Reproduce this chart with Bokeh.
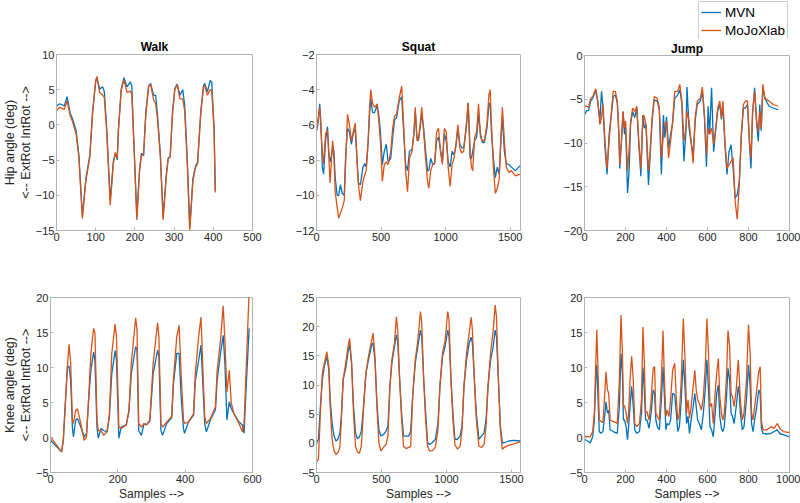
from bokeh.plotting import figure
from bokeh.models import Range1d, FixedTicker, Legend, LegendItem, Title
from bokeh.layouts import column, row
from bokeh.embed import file_html
from bokeh.resources import INLINE

# ---------------- data ----------------
walk_hip_x = [0, 8, 20, 27, 35, 40, 50, 57, 66, 75, 85, 92, 100, 103, 110, 118, 122, 128, 137, 145,
              150, 155, 158, 165, 172, 180, 188, 192, 197, 205, 212, 217, 222, 228, 235, 240, 248, 253, 258, 265,
              272, 280, 285, 290, 296, 302, 308, 315, 322, 327, 333, 340, 348, 355, 360, 368, 375, 378, 385, 392,
              396, 402, 405]
walk_hip_mojo = [2.0, 2.5, 2.2, 3.4, 1.3, 0.6, -1.3, -4.6, -13.3, -7.9, -4.6, 1.6, 6.3, 6.9, 4.6, 4.2, 3.9, -0.8, -11.4, -5.5,
                 -3.9, -4.7, -0.8, 4.9, 6.4, 4.6, 4.8, 4.4, -2.2, -13.5, -6.5, -4.3, -4.3, 1.6, 5.4, 5.8, 3.5, 3.0, 0.6, -4.6,
                 -13.5, -7.4, -4.8, -4.6, 1.6, 5.1, 5.7, 3.7, 3.7, 2.0, -4.6, -15.0, -7.9, -6.0, -5.5, 1.6, 5.4, 5.6, 4.2, 5.0,
                 4.9, -0.8, -9.6]
walk_hip_mvn = [2.7, 3.0, 2.7, 4.0, 1.6, 1.0, -0.8, -4.2, -12.9, -7.6, -4.3, 1.8, 6.2, 6.7, 5.1, 5.4, 4.7, -0.4, -10.7, -5.2,
                -4.0, -5.0, -0.6, 5.0, 6.7, 5.4, 6.1, 5.6, -1.8, -13.1, -6.2, -4.0, -4.4, 1.9, 5.5, 5.9, 4.2, 4.2, 1.2, -4.2,
                -13.1, -7.1, -4.7, -4.5, 1.9, 5.2, 5.8, 4.2, 5.0, 2.8, -4.2, -14.5, -7.6, -5.8, -5.3, 1.9, 5.5, 5.9, 4.7, 6.3,
                6.1, -0.4, -9.3]

walk_knee_x = [0, 33, 38, 45, 50, 55, 60, 65, 68, 75, 80, 90, 100, 107, 115, 120, 128, 132, 138, 142,
               150, 158, 168, 175, 182, 192, 196, 203, 210, 225, 233, 240, 253, 257, 262, 270, 278, 285, 295, 305,
               318, 322, 328, 333, 345, 360, 365, 375, 382, 388, 395, 398, 410, 425, 430, 440, 447, 452, 458, 463,
               475, 490, 495, 505, 513, 518, 524, 531, 537, 545, 560, 570, 575, 580, 590]
walk_knee_mojo = [0.1, -2.05, -0.4, 5.8, 10.1, 13.3, 10.6, 2.5, 2.0, 3.9, 4.1, 2.0, -0.4, 0.1, 7.2, 12.0, 15.6, 14.9, 2.5, 1.0,
                  1.0, 0.3, 0.8, 3.4, 12.0, 16.2, 14.4, 1.5, 1.3, 1.8, 3.9, 10.6, 17.1, 15.3, 2.0, 1.5, 2.0, 1.8, 2.5, 10.6,
                  16.4, 14.4, 2.0, 1.5, 2.2, 3.0, 8.2, 14.4, 16.0, 9.1, 2.5, 2.0, 2.2, 3.4, 9.1, 14.4, 17.2, 10.6, 3.0, 2.0,
                  2.7, 4.4, 9.6, 13.9, 18.8, 13.9, 6.5, 9.6, 4.9, 3.4, 2.0, 0.8, 2.0, 8.2, 21.0]
walk_knee_mvn = [-0.4, -2.05, -0.4, 5.5, 10.0, 10.2, 8.2, 1.5, 0.1, 2.5, 2.7, 1.5, 0.1, 0.6, 6.5, 9.6, 12.2, 11.0, 1.5, -0.1,
                 1.3, 1.0, 0.8, 3.0, 9.1, 12.4, 11.0, -0.1, 1.5, 1.8, 3.7, 9.1, 13.0, 12.5, 1.0, 0.3, 2.0, 1.8, 2.3, 9.1,
                 12.5, 11.5, 1.0, 0.3, 2.0, 2.8, 7.5, 12.0, 12.0, 5.8, 1.3, 0.6, 2.2, 3.2, 8.0, 11.0, 13.2, 8.2, 2.0, 0.8,
                 2.5, 4.0, 8.2, 12.0, 14.6, 10.6, 2.5, 5.1, 4.1, 3.4, 2.2, 1.8, 0.6, 6.0, 15.6]

squat_hip_x = [0, 10, 25, 35, 45, 55, 70, 85, 95, 105, 115, 125, 135, 145, 160, 172, 185, 200, 215, 225,
               240, 255, 270, 285, 300, 315, 325, 340, 360, 375, 385, 400, 410, 420, 435, 450, 470, 485, 495, 510,
               525, 540, 555, 575, 590, 605, 620, 640, 660, 675, 690, 705, 720, 740, 755, 765, 778, 790, 805, 815,
               830, 845, 860, 870, 885, 900, 915, 930, 945, 960, 975, 990, 1005, 1020, 1035, 1050, 1065, 1080, 1095, 1110,
               1125, 1140, 1160, 1175, 1190, 1200, 1210, 1225, 1240, 1255, 1270, 1285, 1300, 1320, 1335, 1345, 1355, 1370, 1385, 1400,
               1415, 1430, 1440, 1455, 1470, 1490, 1510, 1540, 1580]
squat_hip_mojo = [-6.26, -5.8, -5.0, -6.4, -7.5, -8.2, -6.5, -6.3, -7.7, -9.3, -8.1, -6.9, -7.9, -9.8, -10.7, -11.3, -11.0, -10.7, -10.3, -8.25,
                  -5.4, -6.0, -6.9, -6.4, -5.9, -8.25, -9.4, -10.3, -9.2, -8.8, -8.6, -6.9, -5.2, -4.0, -4.8, -5.0, -4.8, -6.0, -6.9, -9.2,
                  -8.25, -8.1, -8.25, -7.5, -6.2, -5.5, -5.4, -4.5, -3.8, -6.0, -8.6, -9.8, -7.9, -7.5, -6.4, -5.0, -6.9, -6.8, -5.8, -5.0,
                  -6.4, -7.9, -9.2, -9.6, -8.6, -8.25, -8.2, -6.4, -6.2, -7.5, -8.25, -6.2, -6.4, -8.4, -9.5, -8.25, -7.9, -7.1, -6.0, -7.3,
                  -7.6, -7.5, -6.0, -4.75, -7.5, -8.4, -8.6, -6.7, -6.4, -4.8, -6.7, -6.9, -6.9, -6.0, -4.3, -4.0, -6.0, -8.4, -9.9, -9.6,
                  -9.1, -6.4, -5.0, -6.9, -8.4, -8.7, -8.6, -8.9, -8.8]
squat_hip_mvn = [-6.36, -6.0, -4.8, -6.0, -8.4, -8.8, -6.9, -6.1, -7.5, -8.1, -7.8, -7.2, -7.5, -9.0, -10.0, -10.0, -9.4, -9.9, -10.0, -7.9,
                 -6.2, -6.4, -7.1, -6.5, -6.2, -8.1, -9.3, -9.4, -8.4, -8.2, -8.4, -7.0, -5.5, -4.5, -5.3, -5.3, -4.9, -5.6, -6.4, -8.25,
                 -7.5, -7.1, -8.1, -7.9, -6.7, -5.7, -5.6, -4.65, -4.4, -6.4, -8.25, -8.6, -7.5, -7.4, -6.5, -5.2, -6.7, -6.9, -6.0, -5.4,
                 -6.2, -7.5, -8.6, -8.6, -7.9, -8.25, -8.2, -6.9, -6.7, -7.4, -8.1, -6.5, -6.9, -8.1, -8.4, -7.5, -7.7, -7.2, -6.2, -7.1,
                 -7.3, -7.3, -6.2, -4.75, -7.9, -7.9, -7.5, -6.9, -6.7, -5.4, -6.5, -7.0, -7.0, -6.2, -4.9, -4.75, -6.4, -7.9, -9.0, -8.4,
                 -8.8, -6.6, -5.6, -7.5, -8.2, -8.25, -8.4, -8.6, -8.3]

squat_knee_x = [0, 15, 30, 45, 60, 80, 95, 105, 120, 135, 150, 165, 180, 190, 205, 225, 245, 255, 270, 285,
                300, 315, 330, 345, 360, 380, 400, 425, 435, 450, 465, 480, 495, 515, 535, 550, 565, 580, 600, 615,
                625, 640, 655, 670, 690, 710, 725, 740, 760, 780, 800, 810, 825, 840, 855, 870, 890, 915, 935, 950,
                970, 990, 1010, 1020, 1035, 1050, 1065, 1085, 1105, 1120, 1135, 1155, 1175, 1190, 1200, 1215, 1230, 1250, 1270, 1290,
                1305, 1320, 1340, 1360, 1375, 1385, 1400, 1415, 1430, 1445, 1480, 1520, 1570]
squat_knee_mojo = [-3.2, -2.7, 5.2, 12.0, 13.75, 15.7, 13.2, 6.4, 0.7, -1.3, -1.9, -1.6, -0.7, 3.5, 10.9, 13.75, 16.9, 18.0, 13.75, 5.2,
                   -0.5, -1.5, -1.7, -0.5, 5.2, 12.0, 14.9, 17.7, 18.9, 14.9, 6.4, 0.1, -1.3, -0.7, -0.2, 1.25, 9.8, 14.3, 17.2, 21.7,
                   19.4, 10.9, 4.1, -0.5, -0.9, -0.7, -0.5, 8.0, 14.3, 17.7, 22.6, 20.6, 10.9, 4.1, -0.5, -1.3, -1.3, -0.7, 2.4, 9.8,
                   15.5, 17.7, 22.6, 21.1, 10.9, 4.1, -0.2, -1.0, -0.5, 2.4, 9.8, 15.5, 18.9, 21.6, 19.4, 10.9, 4.1, -0.5, -0.7, -0.2,
                   3.0, 9.8, 15.5, 19.4, 23.7, 21.7, 10.9, 2.4, -1.0, -0.7, -0.3, -0.1, 0.3]
squat_knee_mvn = [0.1, 0.7, 6.4, 10.9, 13.2, 14.9, 12.6, 7.5, 3.5, 1.25, 0.4, 0.7, 1.8, 4.1, 10.9, 12.9, 16.0, 16.9, 13.75, 6.4,
                  1.8, 0.8, 1.1, 2.1, 5.8, 12.0, 14.3, 16.9, 17.2, 14.3, 6.9, 2.4, 1.25, 1.5, 2.1, 3.0, 9.8, 13.75, 16.6, 18.6,
                  17.4, 10.9, 5.2, 1.25, 1.25, 1.25, 2.1, 8.0, 13.75, 16.6, 19.4, 18.3, 10.9, 5.2, 0.1, -0.2, 0.1, 0.7, 3.5, 9.8,
                  14.9, 16.6, 19.4, 18.3, 10.9, 5.2, 0.7, 0.7, 1.25, 3.0, 9.8, 14.3, 17.2, 18.2, 17.2, 10.9, 5.2, 0.7, 1.25, 1.8,
                  4.1, 9.8, 14.3, 16.6, 19.4, 18.3, 10.9, 3.0, 0.1, 0.1, 0.4, 0.5, 0.4]

jump_hip_x = [0, 10, 20, 30, 40, 55, 65, 75, 83, 90, 100, 110, 120, 130, 140, 150, 160, 168, 172, 180,
              188, 195, 200, 210, 218, 225, 235, 245, 255, 265, 275, 285, 292, 300, 312, 320, 330, 340, 355, 365,
              375, 385, 392, 400, 410, 420, 430, 440, 455, 465, 475, 485, 495, 500, 510, 520, 530, 540, 550, 565,
              575, 585, 595, 603, 610, 620, 630, 640, 650, 660, 668, 675, 685, 695, 705, 715, 725, 735, 745, 755,
              765, 775, 785, 795, 805, 812, 820, 830, 840, 848, 855, 862, 870, 880, 900, 920, 945]
jump_hip_mojo = [-5.8, -5.8, -5.9, -4.9, -4.7, -3.8, -5.2, -7.9, -7.1, -5.6, -9.8, -12.9, -9.8, -6.8, -4.1, -4.1, -5.2, -9.0, -12.5, -9.8,
                 -6.4, -8.3, -7.5, -13.2, -10.6, -7.5, -6.0, -6.4, -5.8, -9.8, -12.9, -6.8, -7.0, -7.9, -13.2, -11.0, -7.1, -4.7, -4.9, -6.0,
                 -11.7, -9.0, -7.9, -7.5, -11.7, -9.8, -7.5, -4.1, -4.1, -3.3, -5.2, -9.8, -8.3, -6.4, -7.5, -9.8, -12.3, -7.1, -5.2, -4.9,
                 -3.6, -6.8, -11.3, -8.3, -9.0, -8.3, -10.2, -8.3, -6.0, -5.2, -7.1, -5.2, -9.8, -12.9, -12.5, -12.1, -11.7, -16.7, -18.7, -14.8,
                 -9.0, -5.6, -5.2, -5.2, -9.8, -11.7, -6.4, -4.1, -7.5, -8.7, -6.4, -8.3, -3.3, -4.9, -5.2, -5.6, -5.8]
jump_hip_mvn = [-6.8, -6.3, -6.3, -5.2, -4.9, -4.0, -5.4, -7.5, -4.1, -5.8, -10.6, -13.6, -9.0, -7.0, -4.7, -4.5, -5.4, -9.2, -12.9, -10.0,
                -6.4, -9.0, -7.8, -15.7, -12.9, -7.8, -6.4, -7.1, -6.0, -10.2, -13.8, -6.8, -8.3, -7.9, -14.8, -11.5, -7.4, -5.1, -5.2, -6.2,
                -13.6, -6.8, -9.4, -7.0, -10.6, -9.0, -7.7, -4.9, -4.5, -3.9, -5.5, -12.1, -8.6, -3.6, -8.3, -10.0, -11.3, -7.4, -5.6, -5.2,
                -4.1, -7.0, -12.7, -5.8, -9.0, -3.7, -11.0, -8.5, -6.3, -5.6, -7.3, -5.6, -10.2, -13.6, -11.0, -10.2, -12.9, -16.3, -15.9, -14.4,
                -9.2, -6.0, -6.0, -5.6, -10.2, -12.9, -6.6, -3.7, -7.9, -9.8, -5.6, -8.6, -3.7, -4.9, -5.8, -6.0, -6.2]

jump_knee_x = [0, 20, 28, 40, 48, 55, 60, 65, 72, 80, 90, 100, 105, 112, 118, 125, 140, 160, 170, 178,
               185, 190, 195, 203, 210, 215, 222, 230, 238, 245, 255, 268, 278, 285, 292, 298, 305, 315, 325, 335,
               342, 348, 355, 365, 375, 383, 390, 397, 403, 412, 420, 430, 440, 448, 455, 463, 472, 482, 490, 498,
               505, 512, 520, 530, 538, 545, 552, 560, 570, 580, 590, 597, 605, 612, 620, 628, 635, 645, 653, 660,
               668, 675, 682, 692, 700, 708, 715, 722, 730, 740, 750, 755, 760, 770, 778, 790, 800, 808, 815, 822,
               830, 840, 850, 857, 863, 870, 890, 910, 925, 940, 955, 970, 1000]
jump_knee_mojo = [0.2, 0.1, 0.1, 0.85, 3.5, 10.6, 15.4, 10.6, 2.5, 2.3, 2.1, 6.8, 9.4, 6.8, 6.3, 2.5, 2.3, 2.0, 8.2, 17.5,
                  12.0, 4.4, 4.6, 3.5, 2.0, 3.5, 8.2, 11.6, 8.2, 2.0, 1.55, 2.0, 5.4, 15.8, 10.6, 3.5, 3.7, 2.5, 5.4, 9.9,
                  10.1, 3.5, 3.0, 2.5, 8.2, 15.3, 8.2, 3.0, 3.9, 3.0, 5.4, 9.6, 10.6, 5.4, 2.5, 3.5, 8.2, 17.0, 11.5, 3.5,
                  5.4, 2.75, 4.4, 7.3, 9.6, 6.8, 5.4, 4.9, 3.9, 5.8, 10.6, 17.0, 12.0, 4.4, 4.9, 2.0, 5.4, 9.2, 11.3, 5.8,
                  3.5, 2.5, 3.5, 8.2, 15.3, 13.0, 6.3, 5.8, 4.4, 6.8, 11.1, 8.7, 5.4, 2.5, 3.5, 8.2, 16.1, 12.0, 3.5, 2.5,
                  4.4, 6.8, 9.4, 10.1, 2.5, 1.1, 1.1, 1.55, 1.3, 2.0, 1.2, 0.85, 0.7]
jump_knee_mvn = [-0.25, -0.6, -0.8, 0.1, 2.5, 8.2, 10.4, 6.3, 0.85, 0.6, 0.85, 3.5, 5.1, 3.5, 3.9, 1.1, 0.85, 0.6, 4.4, 12.0,
                 9.2, 2.5, 2.5, 1.55, -0.3, 1.5, 4.4, 7.3, 4.4, 1.1, 0.6, 0.85, 3.5, 10.0, 6.8, 2.5, 2.5, 1.3, 3.5, 6.8,
                 6.3, 2.5, 1.55, 1.1, 5.4, 10.1, 5.8, 1.1, 2.0, 1.8, 2.5, 6.3, 6.1, 3.5, 0.85, 1.55, 5.4, 11.1, 7.3, 2.0,
                 3.0, 0.6, 2.5, 4.4, 6.3, 4.4, 2.5, 2.0, 1.1, 3.5, 7.3, 11.1, 6.8, 1.55, 1.1, 0.1, 2.5, 6.3, 7.5, 3.0,
                 1.3, 0.85, 1.55, 5.4, 9.9, 8.2, 3.5, 3.0, 2.0, 4.4, 7.3, 6.3, 3.5, 1.1, 1.55, 5.4, 10.4, 7.3, 2.0, 0.85,
                 2.5, 4.4, 6.8, 6.3, 1.3, 0.6, 0.5, 0.6, 0.85, 1.1, 0.5, 0.4, 0.1]

titles = ["Walk", "Squat", "Jump"]
series_names = ["MVN", "MoJoXlab"]
hip_ylabel = ["Hip angle (deg)", "<-- ExtRot IntRot -->"]
knee_ylabel = ["Knee angle (deg)", "<-- ExtRot IntRot -->"]
xlabel = "Samples -->"

walk_hip_xticks = [0, 100, 200, 300, 400, 500]
walk_hip_yticks = [-15, -10, -5, 0, 5, 10]
walk_knee_xticks = [0, 200, 400, 600]
squat_xticks = [0, 500, 1000, 1500]
squat_hip_yticks = [-12, -10, -8, -6, -4, -2]
knee_yticks = [-5, 0, 5, 10, 15, 20]
squat_knee_yticks = [-5, 0, 5, 10, 15, 20, 25]
jump_xticks = [0, 200, 400, 600, 800, 1000]
jump_hip_yticks = [-20, -15, -10, -5, 0]

# ---------------- styling ----------------
MVN_COLOR = "#0072BD"
MOJO_COLOR = "#D95319"
BOX = "#b4b4b4"
TXT = "#262626"
FONT = "Liberation Sans"
LW = 1.3


def style_axis(ax, ticks):
    ax.ticker = FixedTicker(ticks=ticks)
    ax.axis_line_color = BOX
    ax.major_tick_line_color = BOX
    ax.major_tick_in = 3
    ax.major_tick_out = 0
    ax.minor_tick_in = 0
    ax.minor_tick_out = 0
    ax.minor_tick_line_color = None
    ax.major_label_text_font = FONT
    ax.major_label_text_color = TXT
    ax.major_label_text_font_size = "11px"
    ax.major_label_standoff = 2
    ax.axis_label_text_font = FONT
    ax.axis_label_text_font_size = "12px"
    ax.axis_label_text_font_style = "normal"
    ax.axis_label_text_color = TXT
    ax.axis_label_standoff = 1


def panel(x, mvn, mojo, xr, yr, xt, yt, w, h, bl, br, bt, bb, title=None, ylab=None, xlab=None):
    p = figure(width=w, height=h, output_backend="svg", toolbar_location=None,
               x_range=Range1d(*xr), y_range=Range1d(*yr),
               min_border_left=bl, min_border_right=br, min_border_top=bt, min_border_bottom=bb,
               background_fill_color="white", border_fill_color="white")
    p.grid.visible = False
    p.outline_line_color = BOX
    xax = p.below[0]
    yax = p.left[0]
    style_axis(xax, xt)
    style_axis(yax, yt)
    if ylab:
        # inner line first (next to the axis), then the outer line
        for txt in reversed(ylab):
            t = Title(text=txt, align="center", text_font=FONT, text_font_size="12.5px",
                      text_font_style="normal", text_color=TXT, standoff=0)
            p.add_layout(t, "left")
    if xlab:
        xax.axis_label = xlab
    if title:
        p.title.text = title
        p.title.align = "center"
        p.title.text_font = FONT
        p.title.text_font_size = "12px"
        p.title.text_font_style = "bold"
        p.title.text_color = "black"
        p.title.standoff = 1
    p.line(x, mvn, line_color=MVN_COLOR, line_width=LW)
    p.line(x, mojo, line_color=MOJO_COLOR, line_width=LW)
    return p


H1, H2 = 263, 240
LEG_H = 39
W1, W2, W3 = 270, 270, 260
p1 = panel(walk_hip_x, walk_hip_mvn, walk_hip_mojo, (0, 500), (-15, 10), walk_hip_xticks, walk_hip_yticks,
           W1, H1, 48, 18, 54, 33, title=titles[0], ylab=hip_ylabel)
p2 = panel(squat_hip_x, squat_hip_mvn, squat_hip_mojo, (0, 1580), (-12, -2), squat_xticks, squat_hip_yticks,
           W2, H1, 46, 20, 54, 33, title=titles[1])
p3 = panel(jump_hip_x, jump_hip_mvn, jump_hip_mojo, (0, 1000), (-20, 0), jump_xticks, jump_hip_yticks,
           W3, H1 - LEG_H, 44, 11, 54 - LEG_H, 33, title=titles[2])
p3.title.standoff = 0
p4 = panel(walk_knee_x, walk_knee_mvn, walk_knee_mojo, (0, 600), (-5, 20), walk_knee_xticks, knee_yticks,
           W1, H2, 48, 18, 34, 30, ylab=knee_ylabel, xlab=xlabel)
p5 = panel(squat_knee_x, squat_knee_mvn, squat_knee_mojo, (0, 1570), (-5, 25), squat_xticks, squat_knee_yticks,
           W2, H2, 46, 20, 34, 30, xlab=xlabel)
p6 = panel(jump_knee_x, jump_knee_mvn, jump_knee_mojo, (0, 1000), (-5, 20), jump_xticks, knee_yticks,
           W3, H2, 44, 11, 34, 30, xlab=xlabel)

# legend strip above the Jump panel (its lines lie outside this strip's view, only the key shows)
pl = figure(width=W3, height=LEG_H, output_backend="svg", toolbar_location=None,
            x_axis_type=None, y_axis_type=None, x_range=Range1d(0, 1), y_range=Range1d(0, 1),
            min_border_left=0, min_border_right=11, min_border_top=0, min_border_bottom=0,
            background_fill_color="white", border_fill_color="white")
pl.grid.visible = False
pl.outline_line_color = None
lr1 = pl.line(jump_hip_x, jump_hip_mvn, line_color=MVN_COLOR, line_width=LW)
lr2 = pl.line(jump_hip_x, jump_hip_mojo, line_color=MOJO_COLOR, line_width=LW)
legend = Legend(items=[LegendItem(label=series_names[0], renderers=[lr1]),
                       LegendItem(label=series_names[1], renderers=[lr2])],
                location="top_right")
legend.label_text_font = FONT
legend.label_text_font_size = "13.5px"
legend.label_text_color = "black"
legend.glyph_width = 20
legend.glyph_height = 16
legend.label_height = 16
legend.label_standoff = 4
legend.spacing = 2
legend.padding = 2
legend.margin = 1
legend.border_line_color = "#9a9a9a"
legend.border_line_width = 1
legend.background_fill_color = "white"
legend.background_fill_alpha = 1.0
pl.add_layout(legend)

layout = column(row(p1, p2, column(pl, p3)), row(p4, p5, p6))
open("out.html", "w").write(file_html(layout, INLINE))
